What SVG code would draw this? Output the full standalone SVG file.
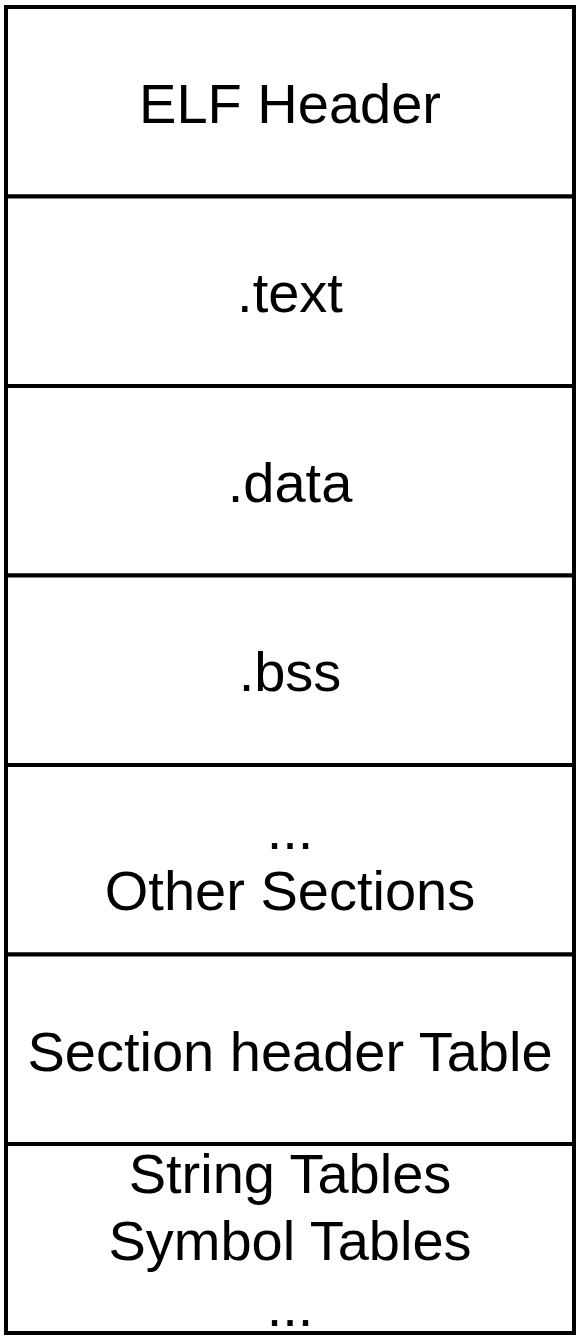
<svg xmlns="http://www.w3.org/2000/svg" width="584" height="1342" viewBox="0 0 584 1342">
<style>
.box{fill:#ffffff;stroke:#000000;stroke-width:4}
.lbl{font-family:"Liberation Sans",Arial,sans-serif;font-size:56px;fill:#000000;text-anchor:middle}
</style>
<rect x="0" y="0" width="584" height="1342" fill="#ffffff"/>
<g id="elf-header"><rect class="box" x="6" y="7" width="568" height="189.5"/><text class="lbl" x="290" y="123">ELF Header</text></g>
<g id="text"><rect class="box" x="6" y="196.5" width="568" height="189.5"/><text class="lbl" x="290" y="312">.text</text></g>
<g id="data"><rect class="box" x="6" y="386" width="568" height="189.5"/><text class="lbl" x="290" y="501.5">.data</text></g>
<g id="bss"><rect class="box" x="6" y="575.5" width="568" height="189.5"/><text class="lbl" x="290" y="691">.bss</text></g>
<g id="other"><rect class="box" x="6" y="765" width="568" height="189.5"/><text class="lbl" x="290" y="849">...</text><text class="lbl" x="290" y="910">Other Sections</text></g>
<g id="section-header-table"><rect class="box" x="6" y="954.5" width="568" height="189.5"/><text class="lbl" x="290" y="1071">Section header Table</text></g>
<g id="tables"><rect class="box" x="6" y="1144" width="568" height="189"/><text class="lbl" x="290" y="1193">String Tables</text><text class="lbl" x="290" y="1260">Symbol Tables</text><text class="lbl" x="290" y="1326">...</text></g>
<g id="connectors"></g>
</svg>
